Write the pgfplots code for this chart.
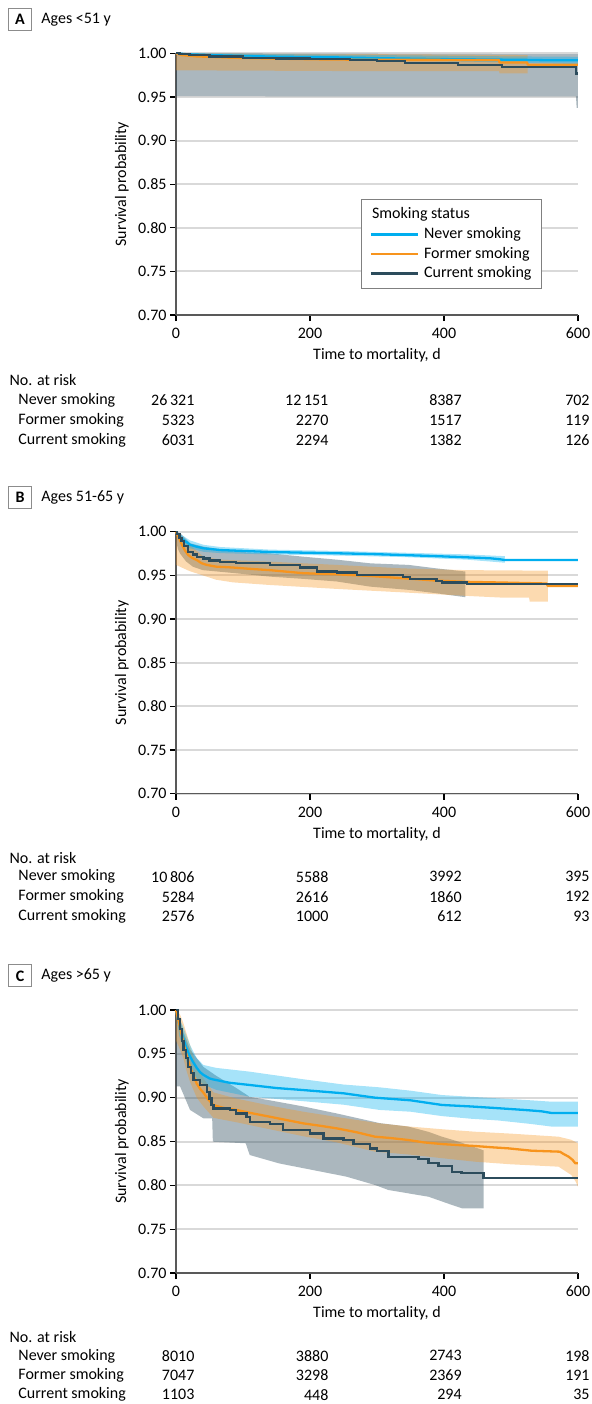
\documentclass[border=0pt]{standalone}
\usepackage{fontspec}
\setmainfont{Carlito}
\usepackage{pgfplots}
\pgfplotsset{compat=1.18}
\usepgfplotslibrary{fillbetween}
\definecolor{cNever}{RGB}{0,174,239}
\definecolor{cFormer}{RGB}{247,148,29}
\definecolor{cCurrent}{RGB}{44,76,92}
\newcommand\cf{\fontsize{8.0}{9.6}\selectfont}
\tikzset{txt/.style={font=\cf, inner sep=0pt}}
\pgfplotsset{
 km/.style={
  scale only axis, width=201pt,
  xmin=0,xmax=600,ymin=0.70,ymax=1.00,
  axis x line*=bottom, axis y line*=left,
  clip=false,
  xtick={0,200,400,600},
  ytick={0.70,0.75,0.80,0.85,0.90,0.95,1.00},
  yticklabel style={/pgf/number format/fixed,/pgf/number format/fixed zerofill,/pgf/number format/precision=2,/tikz/inner xsep=1.5pt},
  /pgf/number format/assume math mode=true,
  tick label style={font=\cf},
  label style={font=\cf},
  ymajorgrids, major grid style={draw=black!15, line width=1pt},
  axis line style={draw=black!65, line width=0.7pt},
  tick style={draw=black, line width=0.6pt}, major tick length=3pt, tick align=outside,
  xlabel={Time to mortality, d}, ylabel={Survival probability},
  xlabel style={at={(axis description cs:0.5,-0.153)}, anchor=center},
  ylabel style={at={(axis description cs:-0.135,0.5)}, anchor=center},
  anchor=south west,
 },
 band/.style={draw=none, fill=#1, fill opacity=0.35, forget plot},
 bnd/.style={draw=none, forget plot},
 kmline/.style={draw=#1, line width=1.15pt, mark=none, line join=round},
 kmstep/.style={draw=#1, line width=1.15pt, const plot, mark=none},
}
% #1..#4: y of "No. at risk" and the three rows; #5..#7: values
\newcommand\risktable[7]{%
 \node[txt,anchor=west] at (axis cs:-249,#1) {No. at risk};
 \node[txt,anchor=west] at (axis cs:-235.8,#2) {Never smoking};
 \node[txt,anchor=west] at (axis cs:-235.8,#3) {Former smoking};
 \node[txt,anchor=west] at (axis cs:-235.8,#4) {Current smoking};
 \rowvals{#2}#5
 \rowvals{#3}#6
 \rowvals{#4}#7
}
\newcommand\rowvals[5]{%
 \node[txt,anchor=east] at (axis cs:28,#1) {#2};
 \node[txt,anchor=east] at (axis cs:228,#1) {#3};
 \node[txt,anchor=east] at (axis cs:427,#1) {#4};
 \node[txt,anchor=east] at (axis cs:617.9,#1) {#5};
}
\newcommand\paneltitle[2]{%
 \node[draw=black!45, line width=0.5pt, minimum width=11.7pt, minimum height=11pt, inner sep=0pt, font=\cf\bfseries] at (axis cs:-232.8,1.0389) {#1};
 \node[txt,anchor=west] at (axis cs:-201.5,1.0389) {#2};
}
\begin{document}
\begin{tikzpicture}
% ---------------- Panel A ----------------
\begin{axis}[km, height=130.85pt, at={(88pt,-157.5pt)},
  legend style={at={(0.4602,0.4433)}, anchor=north west, draw=black!50, line width=0.5pt, fill=white, font=\cf, inner xsep=4pt, inner ysep=3pt, row sep=0.8pt, nodes={inner sep=1pt}, cells={anchor=west}, column sep=1.5pt},
  legend image code/.code={\draw[#1, line width=1.3pt] (0pt,0pt) -- (23.5pt,0pt);},
  legend entries={\hspace*{-26pt}Smoking status, Never smoking, Former smoking, Current smoking}]
\addlegendimage{empty legend}
\addplot[bnd, name path=Acu] coordinates {(0,1.0)(300,0.9995)(597,0.999)(600,0.999)};
\addplot[bnd, name path=Acl] coordinates {(0,0.951)(300,0.9505)(597,0.9505)(598,0.9375)(600,0.9375)};
\addplot[band=cCurrent, fill opacity=0.4] fill between[of=Acu and Acl];
\addplot[bnd, name path=Afu] coordinates {(0,1.0)(100,0.9995)(300,0.999)(525,0.998)};
\addplot[bnd, name path=Afl] coordinates {(0,0.9805)(150,0.980)(300,0.9795)(482,0.9795)(483,0.977)(525,0.977)};
\addplot[band=cFormer] fill between[of=Afu and Afl];
\addplot[bnd, name path=Anu] coordinates {(0,1.0)(100,0.9995)(300,0.998)(500,0.9965)(600,0.996)};
\addplot[bnd, name path=Anl] coordinates {(0,0.9995)(30,0.997)(100,0.995)(200,0.9935)(300,0.9925)(400,0.991)(500,0.9895)(580,0.988)(600,0.988)};
\addplot[band=cNever] fill between[of=Anu and Anl];
\addplot[kmline=cNever] coordinates {(0,1.0)(15,0.999)(50,0.998)(100,0.997)(160,0.996)(230,0.9955)(300,0.9945)(380,0.9935)(450,0.993)(520,0.9925)(560,0.992)(600,0.992)};
\addplot[kmline=cFormer] coordinates {(0,1.0)(8,0.998)(30,0.9965)(80,0.995)(140,0.994)(220,0.993)(300,0.9925)(482,0.9924)(483,0.9895)(524,0.9895)(525,0.987)(600,0.987)};
\addplot[kmstep=cCurrent] coordinates {(0,1.0)(5,0.9995)(20,0.998)(50,0.9965)(100,0.995)(150,0.994)(200,0.9935)(260,0.992)(300,0.9912)(342,0.9886)(421,0.9867)(487,0.9844)(597,0.977)(600,0.977)};
\paneltitle{A}{Ages <51 y}
\risktable{0.6255}{0.6026}{0.5796}{0.5567}{{26\,321}{12\,151}{8387}{702}}{{5323}{2270}{1517}{119}}{{6031}{2294}{1382}{126}}
\end{axis}
% ---------------- Panel B ----------------
\begin{axis}[km, height=131pt, at={(88pt,-396.85pt)}]
\addplot[bnd, name path=Bcu] coordinates {(0,1)(8,0.997)(21,0.9867)(41,0.9829)(90,0.977)(140,0.9752)(190,0.9714)(240,0.968)(290,0.9638)(347,0.962)(389,0.958)(432,0.9544)};
\addplot[bnd, name path=Bcl] coordinates {(0,0.99)(3,0.98)(6,0.975)(15,0.966)(25,0.96)(40,0.956)(90,0.9524)(140,0.9486)(190,0.946)(240,0.943)(290,0.9371)(349,0.9333)(389,0.9295)(432,0.925)};
\addplot[band=cCurrent, fill opacity=0.4] fill between[of=Bcu and Bcl];
\addplot[bnd, name path=Bfu] coordinates {(0,1)(10,0.993)(20,0.985)(41,0.9714)(66,0.968)(140,0.9657)(240,0.962)(339,0.958)(434,0.956)(555,0.9554)};
\addplot[bnd, name path=Bfl] coordinates {(0,0.962)(20,0.955)(36,0.951)(60,0.945)(85,0.942)(140,0.939)(240,0.9345)(339,0.9305)(434,0.9265)(488,0.9245)(527,0.9245)(528,0.920)(555,0.920)};
\addplot[band=cFormer] fill between[of=Bfu and Bfl];
\addplot[bnd, name path=Bnu] coordinates {(0,1)(11,0.995)(21,0.990)(41,0.985)(66,0.9825)(140,0.9795)(240,0.978)(339,0.976)(434,0.974)(491,0.972)};
\addplot[bnd, name path=Bnl] coordinates {(0,0.999)(11,0.986)(21,0.981)(41,0.977)(66,0.9755)(140,0.9740)(240,0.9727)(339,0.971)(434,0.968)(491,0.9645)};
\addplot[band=cNever] fill between[of=Bnu and Bnl];
\addplot[kmline=cNever] coordinates {(0,1)(3,0.997)(6,0.994)(11,0.9905)(16,0.988)(21,0.985)(30,0.983)(41,0.981)(66,0.979)(100,0.978)(140,0.9768)(190,0.976)(240,0.9753)(290,0.9745)(339,0.9733)(390,0.972)(434,0.9707)(470,0.9695)(484,0.9684)(490,0.9676)(600,0.9676)};
\addplot[kmline=cFormer] coordinates {(0,1)(3,0.995)(6,0.99)(9,0.985)(13,0.979)(18,0.9735)(24,0.970)(31,0.9676)(38,0.964)(46,0.962)(60,0.960)(85,0.959)(110,0.9575)(140,0.956)(190,0.9525)(240,0.9512)(290,0.9493)(339,0.9467)(389,0.944)(434,0.9426)(488,0.9418)(553,0.9407)(555,0.9379)(600,0.9379)};
\addplot[kmstep=cCurrent] coordinates {(0,1)(2,0.997)(5,0.993)(8,0.989)(12,0.984)(18,0.977)(25,0.974)(31,0.9714)(41,0.9695)(50,0.967)(66,0.9657)(90,0.9645)(140,0.962)(185,0.959)(210,0.9544)(240,0.9532)(270,0.9505)(339,0.948)(349,0.9457)(389,0.9438)(397,0.942)(434,0.9404)(600,0.9404)};
\paneltitle{B}{Ages 51-65 y}
\risktable{0.6267}{0.6050}{0.5821}{0.5597}{{10\,806}{5588}{3992}{395}}{{5284}{2616}{1860}{192}}{{2576}{1000}{612}{93}}
\end{axis}
% ---------------- Panel C ----------------
\begin{axis}[km, height=131.5pt, at={(88pt,-636.5pt)}]
\addplot[bnd, name path=Ccu] coordinates {(0,1)(6,0.99)(11,0.975)(21,0.955)(31,0.945)(41,0.935)(60,0.925)(90,0.911)(110,0.901)(140,0.897)(190,0.890)(240,0.882)(304,0.871)(347,0.867)(377,0.861)(397,0.8555)(422,0.8498)(459,0.840)};
\addplot[bnd, name path=Ccl] coordinates {(0,0.913)(6,0.913)(21,0.886)(41,0.8764)(54,0.8764)(55,0.8498)(104,0.848)(110,0.8346)(154,0.825)(204,0.8175)(254,0.810)(297,0.8004)(317,0.7947)(377,0.787)(412,0.7776)(427,0.7738)(459,0.7738)};
\addplot[band=cCurrent, fill opacity=0.4] fill between[of=Ccu and Ccl];
\addplot[bnd, name path=Cfu] coordinates {(0,1)(6,0.995)(11,0.985)(21,0.96)(31,0.935)(41,0.922)(56,0.906)(90,0.899)(140,0.891)(190,0.884)(240,0.878)(304,0.8707)(350,0.867)(397,0.864)(446,0.8612)(500,0.859)(571,0.8555)(590,0.852)(600,0.8479)};
\addplot[bnd, name path=Cfl] coordinates {(0,0.965)(6,0.955)(11,0.945)(16,0.93)(21,0.918)(31,0.9)(41,0.89)(56,0.877)(90,0.872)(140,0.864)(190,0.856)(240,0.849)(297,0.8384)(350,0.835)(397,0.831)(446,0.827)(500,0.824)(571,0.8213)(590,0.8118)(596,0.805)(600,0.7985)};
\addplot[band=cFormer] fill between[of=Cfu and Cfl];
\addplot[bnd, name path=Cnu] coordinates {(0,1)(5,0.99)(10,0.982)(16,0.97)(21,0.96)(31,0.945)(41,0.9373)(60,0.934)(110,0.9297)(190,0.921)(250,0.915)(304,0.9118)(350,0.908)(397,0.903)(440,0.901)(481,0.8992)(530,0.897)(561,0.8954)(600,0.8954)};
\addplot[bnd, name path=Cnl] coordinates {(0,0.995)(5,0.97)(10,0.958)(16,0.94)(21,0.933)(31,0.922)(41,0.915)(60,0.909)(110,0.9011)(190,0.896)(250,0.892)(304,0.886)(350,0.884)(397,0.879)(440,0.876)(481,0.874)(530,0.870)(561,0.867)(600,0.867)};
\addplot[band=cNever] fill between[of=Cnu and Cnl];
\addplot[kmline=cNever] coordinates {(0,1)(3,0.99)(6,0.98)(10,0.97)(14,0.96)(18,0.952)(21,0.947)(26,0.940)(31,0.934)(36,0.929)(41,0.926)(50,0.922)(55,0.9209)(80,0.917)(110,0.9145)(150,0.911)(190,0.9087)(250,0.905)(297,0.900)(350,0.897)(397,0.8917)(440,0.890)(481,0.888)(520,0.886)(545,0.8845)(561,0.8825)(600,0.8825)};
\addplot[kmline=cFormer] coordinates {(0,1)(3,0.99)(6,0.98)(9,0.97)(11,0.962)(16,0.948)(21,0.935)(26,0.925)(31,0.916)(36,0.91)(41,0.9057)(48,0.898)(56,0.8916)(70,0.8885)(90,0.886)(115,0.882)(140,0.8783)(165,0.8745)(190,0.8707)(215,0.868)(240,0.865)(270,0.8605)(297,0.8555)(320,0.854)(347,0.8517)(370,0.849)(397,0.8471)(420,0.846)(446,0.8449)(470,0.8435)(496,0.8422)(531,0.8395)(573,0.8384)(578,0.836)(586,0.8327)(592,0.829)(596,0.8251)(600,0.8251)};
\addplot[kmstep=cCurrent] coordinates {(0,1)(3,0.99)(6,0.978)(9,0.965)(11,0.9544)(15,0.945)(18,0.9354)(22,0.928)(26,0.920)(36,0.9145)(46,0.9068)(50,0.899)(53,0.8916)(56,0.8878)(81,0.8859)(90,0.8821)(105,0.8783)(110,0.8726)(140,0.870)(160,0.8631)(200,0.8593)(220,0.8536)(250,0.8517)(265,0.8471)(290,0.8422)(300,0.8395)(317,0.8327)(362,0.8297)(377,0.8258)(392,0.822)(412,0.8156)(426,0.8137)(459,0.808)(600,0.808)};
\paneltitle{C}{Ages >65 y}
\risktable{0.6273}{0.6055}{0.5830}{0.5612}{{8010}{3880}{2743}{198}}{{7047}{3298}{2369}{191}}{{1103}{448}{294}{35}}
\end{axis}
\pgfresetboundingbox
\useasboundingbox (0,0) rectangle (295.5pt,-702pt);
\end{tikzpicture}
\end{document}
